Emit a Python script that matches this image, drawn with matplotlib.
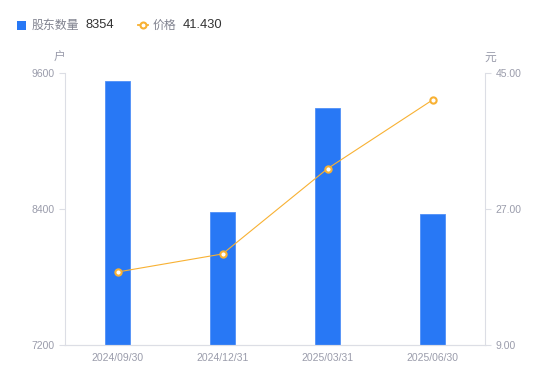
import matplotlib
matplotlib.use("Agg")
import matplotlib.pyplot as plt
from matplotlib.lines import Line2D
from matplotlib.patches import Rectangle

plt.rcParams['font.family'] = ['Liberation Sans', 'Noto Sans CJK SC', 'DejaVu Sans']

categories = ["2024/09/30", "2024/12/31", "2025/03/31", "2025/06/30"]
holders = [9530, 8373, 9290, 8354]
price = [18.66, 21.05, 32.34, 41.43]
left_ticks = [7200, 8400, 9600]
right_ticks = [9.00, 27.00, 45.00]
legend_names = ["股东数量", "价格"]
legend_values = ["8354", "41.430"]

bar_color = "#2878F5"
line_color = "#F8B133"
tick_color = "#9A9CAB"
axis_color = "#DCDEE5"
W, H = 550, 381

fig = plt.figure(figsize=(5.5, 3.81), dpi=100)
ax = fig.add_axes([65/W, 36/H, 420/W, 272/H])
x = list(range(len(categories)))
ax.bar(x, holders, width=0.24, color=bar_color, edgecolor="#4F8FF7", linewidth=0.6, zorder=2)
ax.set_xlim(-0.5, len(categories) - 0.5)
ax.set_ylim(left_ticks[0], left_ticks[-1])
ax.set_yticks(left_ticks)
ax.set_yticklabels([str(v) for v in left_ticks])
ax.set_xticks(x)
ax.set_xticklabels(categories)

ax2 = ax.twinx()
ax2.plot(x, price, color=line_color, linewidth=0.8, marker='o', markersize=4.5,
         markerfacecolor='white', markeredgecolor=line_color, markeredgewidth=1.5, zorder=3)
ax2.set_ylim(right_ticks[0], right_ticks[-1])
ax2.set_yticks(right_ticks)
ax2.set_yticklabels([f"{v:.2f}" for v in right_ticks])

for a in (ax, ax2):
    a.spines["top"].set_visible(False)
    a.spines["left"].set_color(axis_color)
    a.spines["right"].set_color(axis_color)
    a.spines["bottom"].set_color(axis_color)
    a.tick_params(colors=tick_color, labelsize=7.5, length=4, width=0.8)
    a.tick_params(axis='y', color=axis_color, labelcolor=tick_color)
ax.tick_params(axis='x', length=0, pad=6, labelcolor=tick_color)
ax2.spines["left"].set_visible(False)
ax.spines["right"].set_visible(False)

fig.text(59/W, 1 - 57/H, "户", ha='center', va='center', fontsize=8.5, color=tick_color,
         family=['Noto Sans CJK SC'])
fig.text(490/W, 1 - 57/H, "元", ha='center', va='center', fontsize=8.5, color=tick_color,
         family=['Noto Sans CJK SC'])

# legend drawn manually
ly = 1 - 25/H
fig.patches.append(Rectangle((17/W, 1 - 30/H), 9/W, 9/H, transform=fig.transFigure,
                             facecolor=bar_color, edgecolor='none'))
fig.text(31.5/W, ly, legend_names[0], ha='left', va='center', fontsize=8.6, color="#80828F",
         family=['Noto Sans CJK SC'])
fig.text(85/W, ly, legend_values[0], ha='left', va='center', fontsize=9.3, color="#333333")
fig.lines.append(Line2D([138/W, 148/W], [ly, ly], transform=fig.transFigure, color=line_color,
                        linewidth=1.3))
fig.lines.append(Line2D([143/W], [ly], transform=fig.transFigure, color=line_color,
                        marker='o', markersize=4.3, markerfacecolor='white',
                        markeredgecolor=line_color, markeredgewidth=1.5, linestyle='none'))
fig.text(153/W, ly, legend_names[1], ha='left', va='center', fontsize=8.6, color="#80828F",
         family=['Noto Sans CJK SC'])
fig.text(182.5/W, ly, legend_values[1], ha='left', va='center', fontsize=9.3, color="#333333")

fig.savefig("out.png", dpi=100, facecolor='white')
